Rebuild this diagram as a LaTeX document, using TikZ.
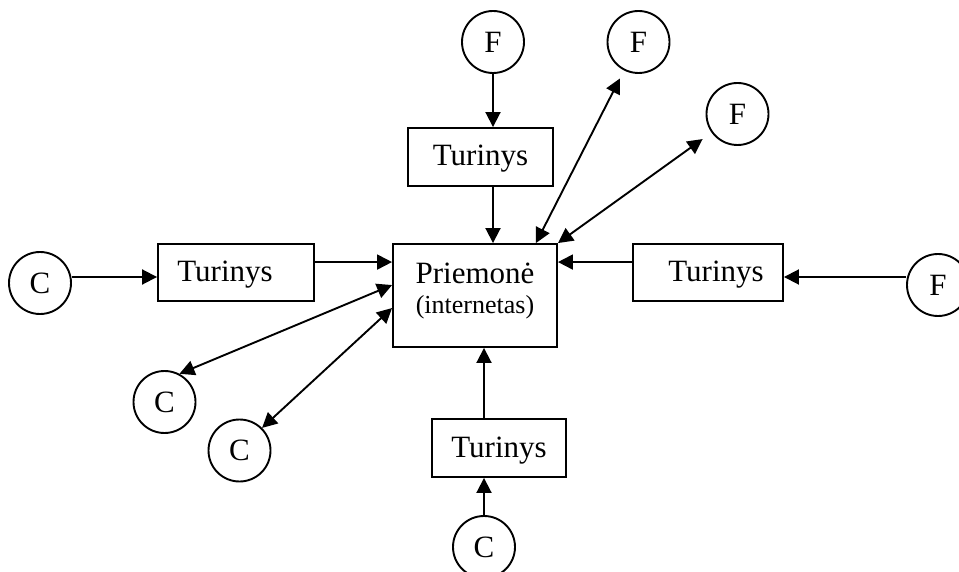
\documentclass[tikz,border=0pt]{standalone}
\usepackage{fontspec}
\setmainfont{Liberation Serif}
\usetikzlibrary{positioning, arrows.meta}

\begin{document}
\begin{tikzpicture}[x = 1pt, y = -1pt, line width = 1.9pt,
  every node/.style = {align=center, font=\fontsize{31}{30}\selectfont},
  tbox/.style = {draw, rectangle, inner sep=0pt, text height=25pt, text depth=7pt},
  ring/.style = {draw, circle, minimum size=62pt, inner sep=0pt},
  arr/.style = {-{Triangle[length=15pt, width=15pt]}},
  dbl/.style = {{Triangle[length=15pt, width=15pt]}-{Triangle[length=15pt, width=15pt]}}]
 \useasboundingbox (0,0) rectangle (959,572);
 \node [draw, rectangle, inner sep=0pt, minimum width=164pt, minimum height=103pt, text depth=15pt] (prm) at (475,295.5)
   {Priemonė\\{\fontsize{26}{30}\selectfont(internetas)}};
 \node [tbox, minimum width=145pt, minimum height=58pt] (tt) at (480.5,157) {Turinys};
 \node [tbox, minimum width=156pt, minimum height=57pt] (tl) at (236,272.5) {Turinys\hspace*{22pt}};
 \node [tbox, minimum width=150pt, minimum height=57pt] (tr) at (708,272.5) {\hspace*{16pt}Turinys};
 \node [tbox, minimum width=134pt, minimum height=58pt] (tb) at (499,448) {Turinys};
 \node [ring] (f1) at (493,42) {F};
 \node [ring] (f2) at (638.5,42) {F};
 \node [ring] (f3) at (737.5,114) {F};
 \node [ring] (fr) at (938,285) {F};
 \node [ring] (cl) at (40,283) {C};
 \node [ring] (c1) at (164.5,402) {C};
 \node [ring] (c2) at (239.5,450.5) {C};
 \node [ring] (cb) at (484,547) {C};
 \draw [arr] (f1) -- (f1 |- tt.north);
 \draw [arr] (f1 |- tt.south) -- (f1 |- prm.north);
 \draw [arr] ([yshift=6pt]cl.east) -- ([yshift=6pt]cl.east -| tl.west);
 \draw [arr] ([yshift=-19pt]tl.north east) -- ([yshift=-19pt]prm.north west);
 \draw [arr] ([yshift=8pt]fr.west) -- ([yshift=8pt]fr.west -| tr.east);
 \draw [arr] ([yshift=-19pt]tr.north west) -- ([yshift=-19pt]prm.north east);
 \draw [arr] (cb) -- (cb |- tb.south);
 \draw [arr] (cb |- tb.north) -- (cb |- prm.south);
 \draw [dbl, shorten >=9pt] ([xshift=-22pt]prm.north east) -- (f2);
 \draw [dbl, shorten >=11pt] (prm.north east) -- (f3);
 \draw [dbl] ([yshift=-42pt]prm.north west) -- (c1.62);
 \draw [dbl] ([yshift=-65pt]prm.north west) -- (c2.45);
\end{tikzpicture}
\end{document}
